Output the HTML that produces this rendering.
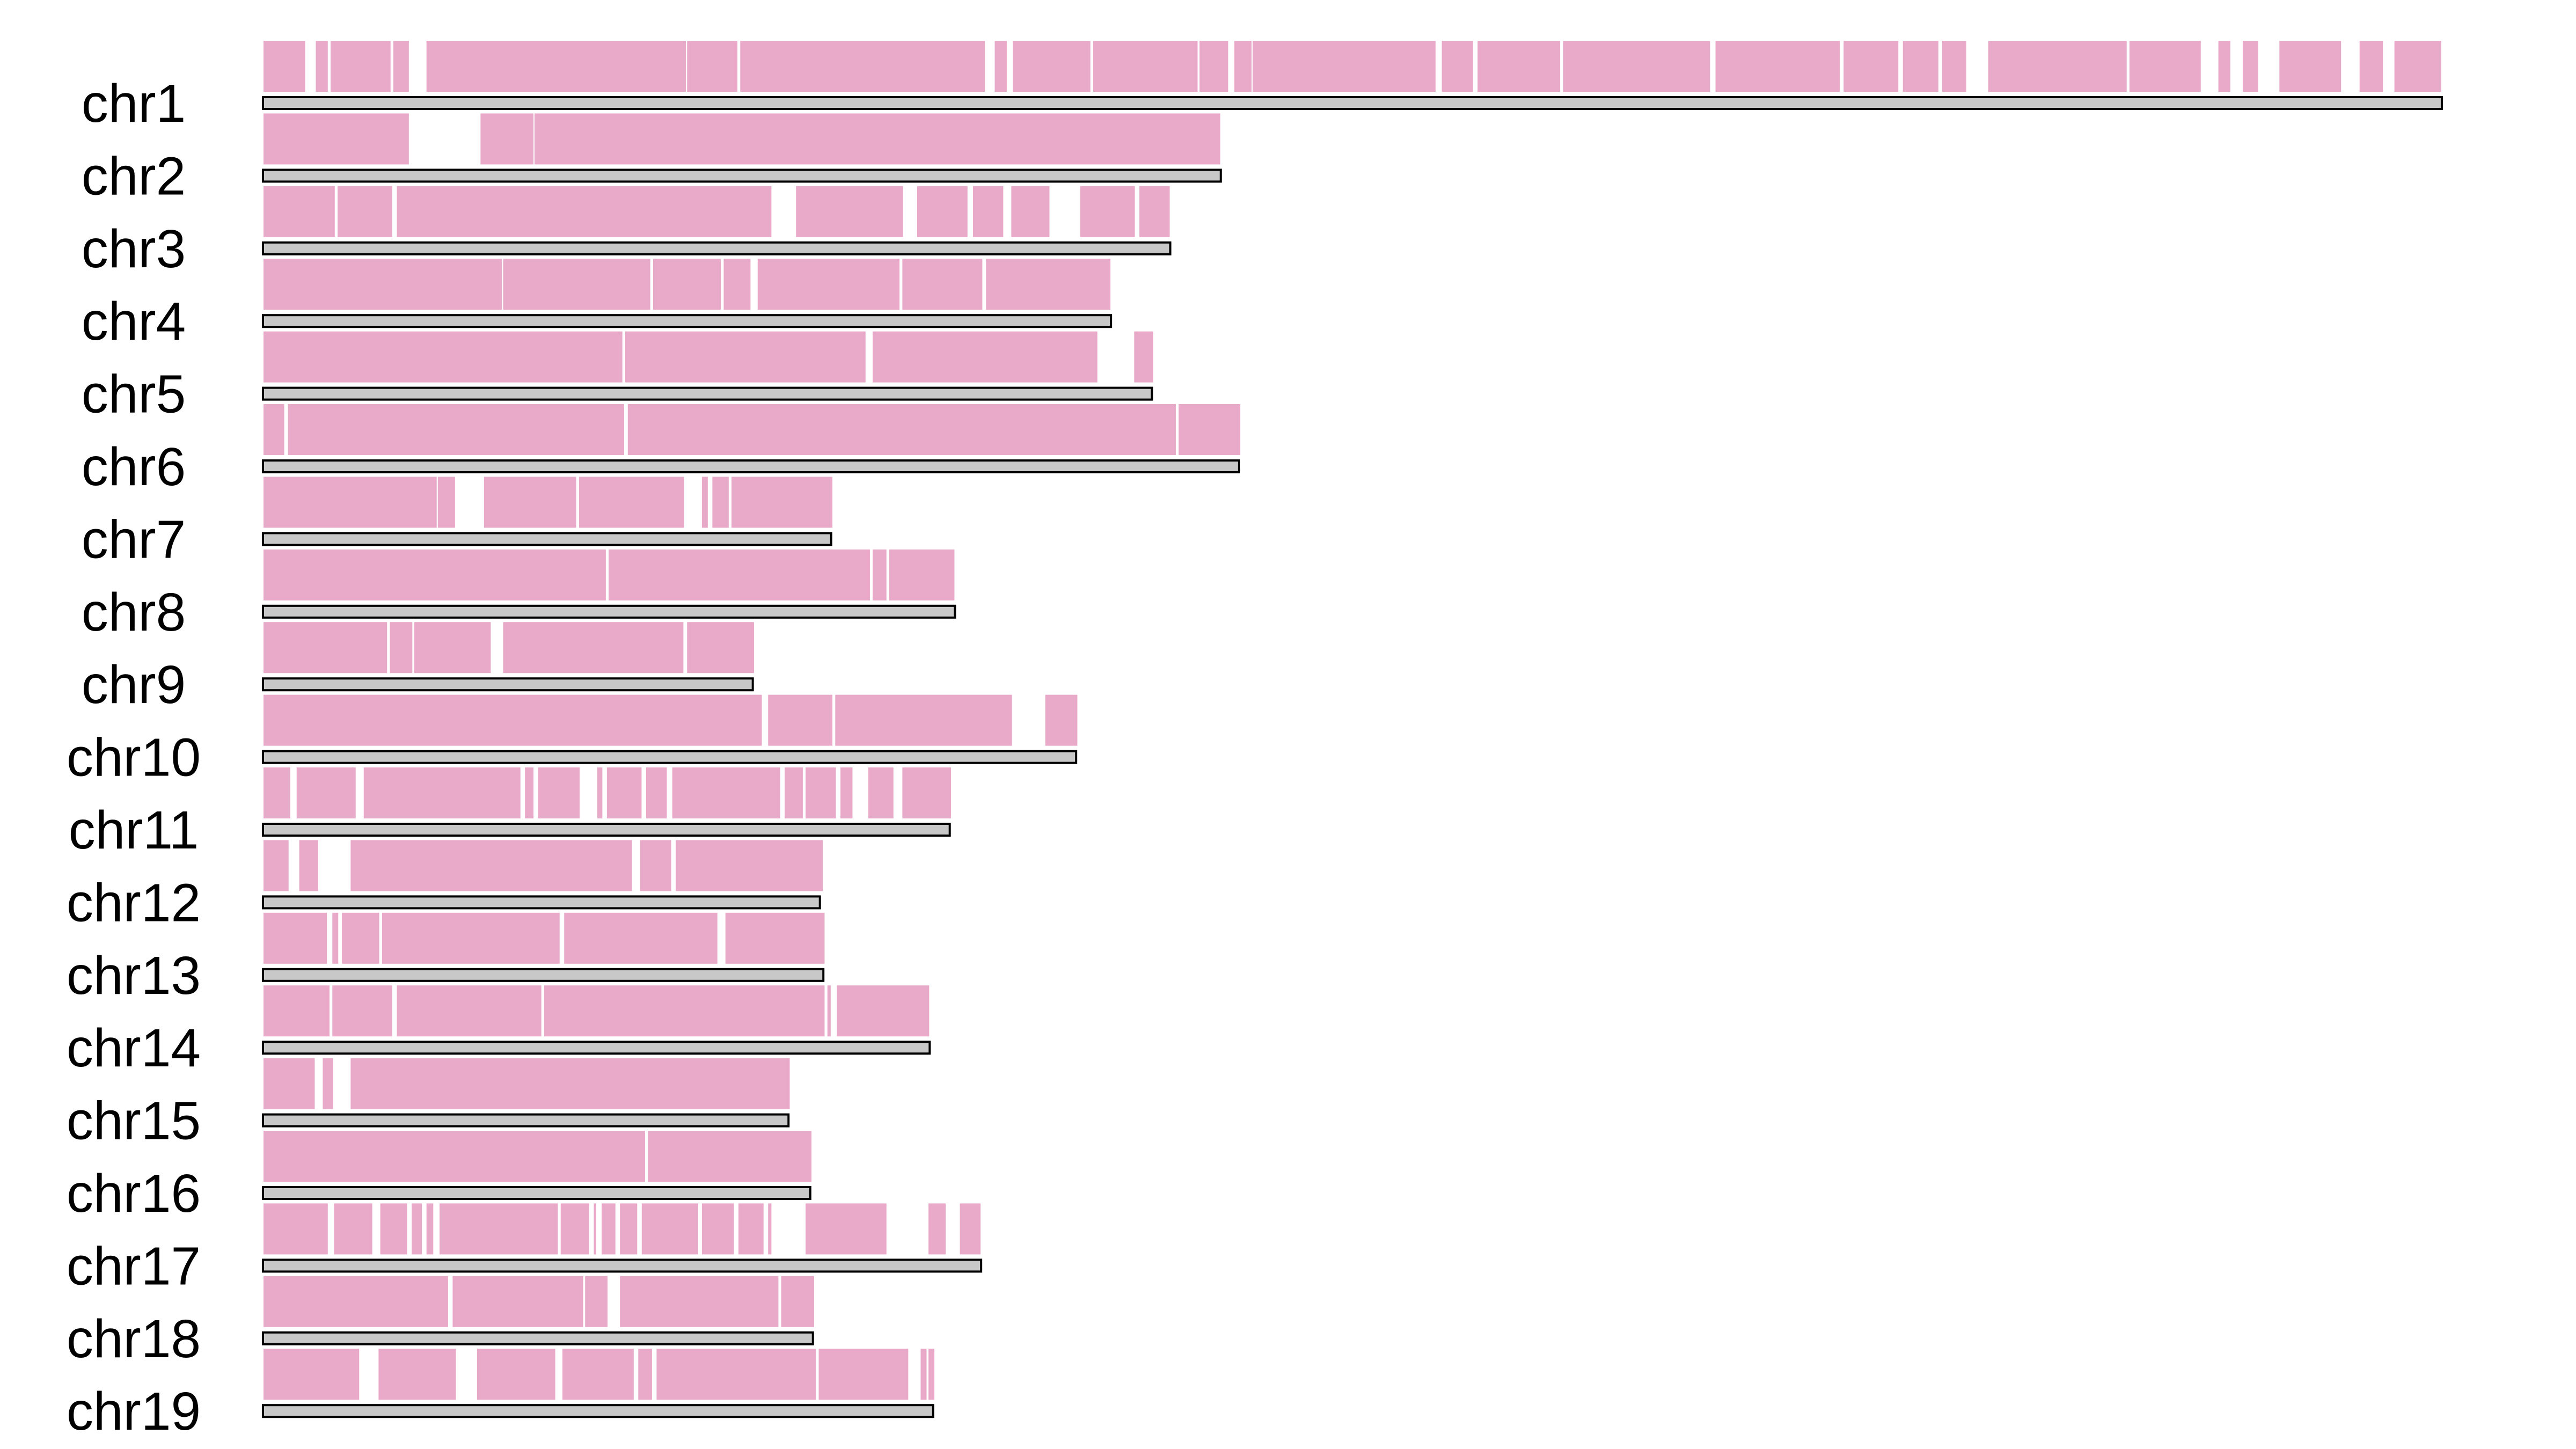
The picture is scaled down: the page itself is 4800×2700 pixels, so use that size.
<!DOCTYPE html>
<html>
<head>
<meta charset="utf-8">
<style>
  html,body{margin:0;padding:0;background:#fff;}
  svg{display:block;}
  text{font-family:"Liberation Sans",Arial,sans-serif;}
</style>
</head>
<body>
<svg id="chart" width="4800" height="2700" viewBox="0 0 4800 2700" xmlns="http://www.w3.org/2000/svg"></svg>
<script>
const chromNames = ["chr1","chr2","chr3","chr4","chr5","chr6","chr7","chr8","chr9","chr10","chr11","chr12","chr13","chr14","chr15","chr16","chr17","chr18","chr19"];
const chromLengths = [250.0,109.9,104.1,97.3,102.0,112.0,65.2,79.4,56.2,93.3,78.8,63.9,64.3,76.5,60.3,62.8,82.4,63.1,76.9];
const segments = [
  [[0,4.9],[6.0,7.5],[7.7,14.7],[14.9,16.8],[18.7,48.6],[48.6,54.5],[54.7,82.9],[83.9,85.4],[86.0,95.0],[95.2,107.3],[107.4,110.8],[111.4,113.5],[113.5,134.6],[135.2,138.9],[139.3,148.9],[149.1,166.1],[166.6,181.0],[181.3,187.7],[188.1,192.3],[192.6,195.5],[197.9,213.9],[214.1,222.4],[224.3,225.8],[227.1,229.0],[231.3,238.5],[240.5,243.3],[244.5,250.0]],
  [[0,16.8],[24.9,31.1],[31.1,109.9]],
  [[0,8.3],[8.5,14.9],[15.3,58.4],[61.1,73.5],[75.0,80.9],[81.4,85.0],[85.8,90.3],[93.7,100.1],[100.5,104.1]],
  [[0,27.5],[27.5,44.5],[44.7,52.6],[52.8,56.0],[56.7,73.1],[73.3,82.6],[82.9,97.3]],
  [[0,41.3],[41.5,69.2],[69.9,95.8],[99.9,102.2]],
  [[0,2.5],[2.8,41.5],[41.8,104.8],[105.0,112.2]],
  [[0,20.0],[20.0,22.1],[25.3,36.0],[36.2,48.4],[50.3,51.1],[51.5,53.5],[53.7,65.4]],
  [[0,39.4],[39.6,69.7],[69.9,71.6],[71.8,79.4]],
  [[0,14.3],[14.5,17.2],[17.3,26.2],[27.5,48.3],[48.6,56.4]],
  [[0,57.3],[57.9,65.4],[65.6,86.0],[89.7,93.5]],
  [[0,3.2],[3.8,10.7],[11.5,29.6],[30.0,31.1],[31.5,36.4],[38.3,39.0],[39.4,43.5],[43.9,46.4],[46.9,59.4],[59.8,62.0],[62.2,65.8],[66.2,67.7],[69.4,72.4],[73.3,79.0]],
  [[0,3.0],[4.1,6.4],[10.0,42.4],[43.2,46.9],[47.3,64.3]],
  [[0,7.4],[7.9,8.7],[9.0,13.4],[13.6,34.1],[34.5,52.2],[53.0,64.5]],
  [[0,7.7],[7.9,14.9],[15.3,32.0],[32.2,64.5],[64.7,65.2],[65.8,76.5]],
  [[0,6.0],[6.8,8.1],[10.0,60.5]],
  [[0,43.9],[44.1,63.0]],
  [[0,7.5],[8.1,12.6],[13.4,16.6],[17.0,18.3],[18.7,19.6],[20.2,33.9],[34.1,37.5],[37.9,38.3],[38.8,40.5],[40.9,43.0],[43.4,50.0],[50.3,54.1],[54.5,57.5],[57.9,58.4],[62.2,71.6],[76.3,78.4],[79.9,82.4]],
  [[0,21.3],[21.7,36.8],[36.9,39.6],[40.9,59.2],[59.4,63.3]],
  [[0,11.1],[13.2,22.2],[24.5,33.6],[34.3,42.6],[43.0,44.7],[45.1,63.5],[63.7,74.1],[75.4,76.2],[76.3,77.1]]
];

const NS = "http://www.w3.org/2000/svg";
const svg = document.getElementById("chart");
const X0 = 490, PX_PER_MB = 4060 / 250;
function xScale(v){ return X0 + v * PX_PER_MB; }
function rowTop(i){ return 75 + i * 135.4; }

chromNames.forEach(function(name, i){
  const g = document.createElementNS(NS, "g");
  
  
  svg.appendChild(g);

  const top = rowTop(i);
  segments[i].forEach(function(s, j){
    const r = document.createElementNS(NS, "rect");
    
    
    r.setAttribute("x", xScale(s[0]));
    r.setAttribute("y", top);
    r.setAttribute("width", Math.max(1, xScale(s[1]) - xScale(s[0])));
    r.setAttribute("height", 97);
    r.setAttribute("fill", "#e9a9c9");
    r.setAttribute("stroke", "#ffffff");
    r.setAttribute("stroke-width", "2");
    g.appendChild(r);
  });

  const bar = document.createElementNS(NS, "rect");
  
  
  bar.setAttribute("x", xScale(0));
  bar.setAttribute("y", top + 106);
  bar.setAttribute("width", xScale(chromLengths[i]) - xScale(0));
  bar.setAttribute("height", 22);
  bar.setAttribute("fill", "#c8c8c8");
  bar.setAttribute("stroke", "#000000");
  bar.setAttribute("stroke-width", "4");
  g.appendChild(bar);

  const t = document.createElementNS(NS, "text");
  
  
  t.setAttribute("x", 249);
  t.setAttribute("y", top + 152);
  t.setAttribute("text-anchor", "middle");
  t.setAttribute("font-size", "100");
  t.setAttribute("fill", "#000");
  t.textContent = name;
  g.appendChild(t);
});
</script>
</body>
</html>
